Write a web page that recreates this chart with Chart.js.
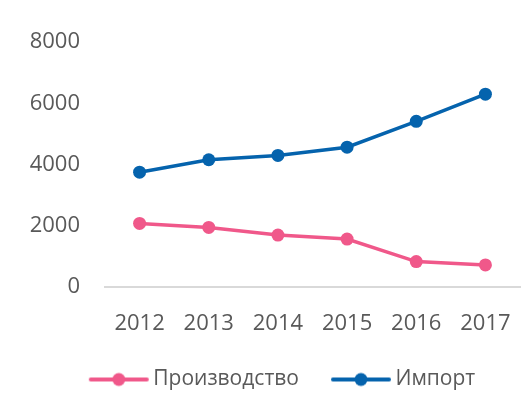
<!DOCTYPE html>
<html><head><meta charset="utf-8">
<script src="https://cdn.jsdelivr.net/npm/chart.js@4"></script>
<style>html,body{margin:0;padding:0;background:#fff}#w{width:530px;height:407px}</style>
</head><body><div id="w"><canvas id="c"></canvas></div>
<script>
const years = ['2012','2013','2014','2015','2016','2017'];
const production = [2075, 1945, 1695, 1565, 830, 720];
const imports = [3750, 4155, 4295, 4565, 5410, 6295];
const yTicks = [0, 2000, 4000, 6000, 8000];
const seriesNames = ['Производство', 'Импорт'];
const pink = '#F0588A', blue = '#0563AD';
function legendIcon(color){
  const cv = document.createElement('canvas');
  cv.width = 88; cv.height = 16;
  const g = cv.getContext('2d');
  g.strokeStyle = color; g.lineWidth = 4; g.lineCap = 'round';
  g.beginPath(); g.moveTo(28,8); g.lineTo(84,8); g.stroke();
  g.fillStyle = color; g.beginPath(); g.arc(56,8,6.5,0,Math.PI*2); g.fill();
  return cv;
}
const icons = [legendIcon(pink), legendIcon(blue)];
const font = "'Open Sans', 'Liberation Sans', sans-serif";
const shiftLegend = {id: 'shiftLegend', afterLayout(chart){
  const lg = chart.legend; if (!lg) return;
  lg.left += 13; lg.right += 13;
}};
new Chart(document.getElementById('c'), {
  type: 'line',
  data: { labels: years, datasets: [
    {label: seriesNames[0], data: production, borderColor: pink, backgroundColor: pink, borderWidth: 3.5, pointRadius: 6.5, pointHoverRadius: 6.5, pointStyle: 'circle', pointBorderWidth: 0},
    {label: seriesNames[1], data: imports, borderColor: blue, backgroundColor: blue, borderWidth: 3.5, pointRadius: 6.5, pointHoverRadius: 6.5, pointStyle: 'circle', pointBorderWidth: 0}
  ]},
  plugins: [shiftLegend],
  options: {
    responsive: true, maintainAspectRatio: false, animation: false,
    layout: {padding: {top: 42, right: 10, left: 0, bottom: 7}},
    plugins: {
      tooltip: {enabled: false},
      legend: {position: 'bottom', labels: {
        font: {family: font, size: 21}, color: '#595959', padding: 14,
        usePointStyle: true, pointStyleWidth: 72,
        generateLabels: (chart) => chart.data.datasets.map((d, i) => ({
          text: d.label, pointStyle: icons[i], fillStyle: d.borderColor, strokeStyle: d.borderColor,
          fontColor: '#595959', lineWidth: 0, hidden: false, datasetIndex: i
        }))
      }}
    },
    scales: {
      x: {offset: true, grid: {display: false}, border: {display: true, color: '#d9d9d9', width: 2},
          afterFit: (s) => { s.height = 68; },
          ticks: {font: {family: font, size: 22}, color: '#595959', padding: 16}},
      y: {min: 0, max: 8000, grid: {display: false}, border: {display: false},
          afterBuildTicks: (s) => { s.ticks = yTicks.map(v => ({value: v})); },
          afterFit: (s) => { s.width = 105; },
          ticks: {font: {family: font, size: 22}, color: '#595959', padding: 17, callback: (v) => String(v)}}
    }
  }
});
</script></body></html>
